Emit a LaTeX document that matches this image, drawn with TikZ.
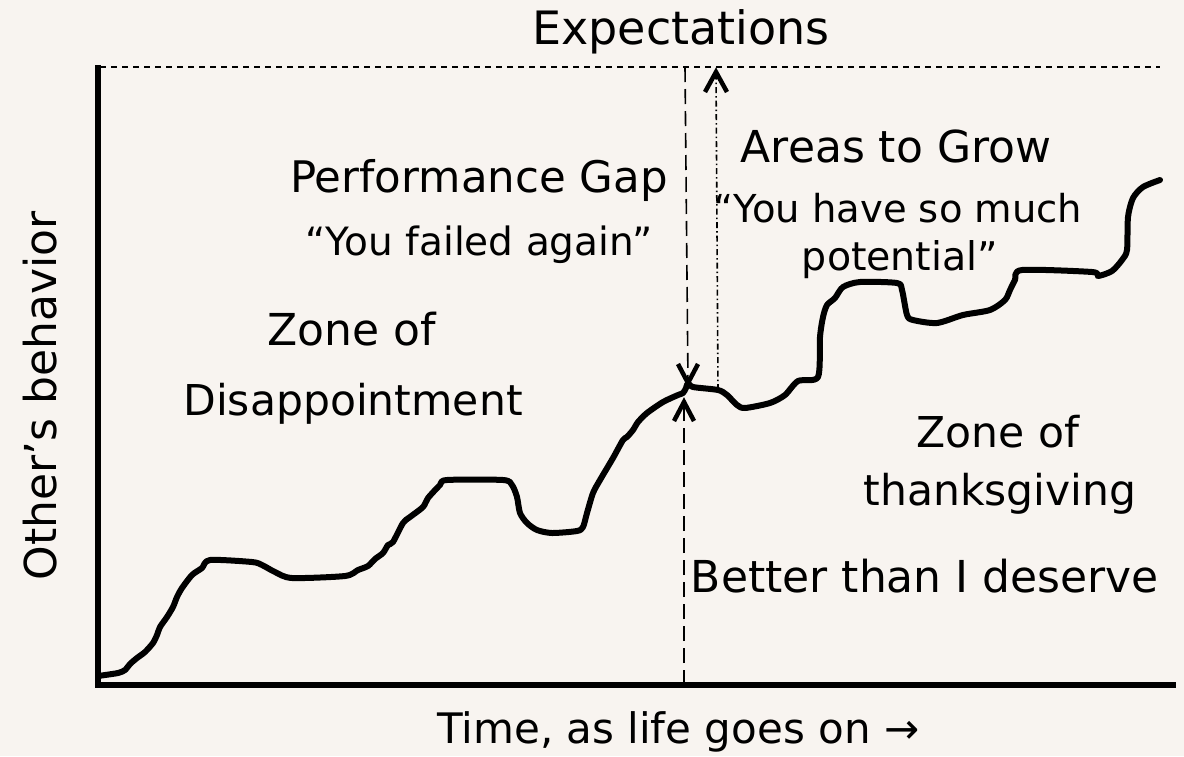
\documentclass[tikz,border=0pt]{standalone}
\usepackage{fontspec}
\setmainfont{DejaVu Sans}
\definecolor{bg}{HTML}{F8F4F0}
\newcommand{\fsz}[1]{\fontsize{#1}{#1}\selectfont}
\begin{document}
\begin{tikzpicture}[x=1pt,y=-1pt,
  lbl/.style={inner sep=0pt, anchor=base},
  axis/.style={line width=6pt, line join=miter},
  curve/.style={line width=6pt, line cap=round, line join=round},
  chev/.style={line width=4.5pt, line join=miter, line cap=butt, solid},
  gapline/.style={line width=1.6pt, dash pattern=on 15pt off 7pt},
  growline/.style={line width=1.6pt, dash pattern=on 6pt off 3pt on 1.5pt off 3pt},
  expline/.style={line width=1.5pt, dash pattern=on 6pt off 5pt}]
\fill[bg] (0,0) rectangle (1184,756);
\useasboundingbox (0,0) rectangle (1184,756);

% coordinates
\coordinate (ytop) at (98,65);
\coordinate (origin) at (98,685);
\coordinate (xend) at (1176,685);
\coordinate (expL) at (100,67);
\coordinate (expR) at (1160,67);
\coordinate (gaptop) at (685,67);
\coordinate (gap) at (688,383);
\coordinate (gapbot) at (684,685);
\coordinate (gapup) at (684,402);
\coordinate (grow) at (718,390);
\coordinate (growtop) at (716,72);

% axes
\draw[axis] (ytop) -- (origin) -- (xend);

% expectations line
\draw[expline] (expL) -- (expR);

% behaviour curve
\draw[curve] plot[smooth, tension=0.45] coordinates {
(98,676) (118,673) (125,670) (130,664) (137,658) (145,652) (153,643) (157,635)
(160,627) (167,617) (173,607) (177,597) (182,588) (192,575) (202,568) (210,560)
(252,562) (262,565) (275,572) (292,578) (345,576) (358,570) (368,566) (375,559)
(383,553) (388,545) (393,542) (403,523) (410,517) (423,507) (428,498) (440,485)
(447,480) (503,480) (512,485) (517,497) (520,513) (527,523) (537,530) (552,533)
(577,531) (583,527) (587,513) (593,493) (600,480) (613,458) (623,440) (627,437)
(633,430) (638,422) (647,413) (663,402) (678,395) (683,393) (686,388) (688,383)
(693,387) (718,390) (727,395) (737,405) (745,408) (770,403) (785,395) (798,381)
(818,377) (820,337) (823,317) (827,305) (835,298) (843,287) (860,282) (897,283)
(902,290) (907,315) (913,320) (937,323) (963,315) (990,310) (1005,300) (1010,290)
(1015,280) (1022,270) (1092,272) (1098,276) (1112,271) (1122,260) (1127,250)
(1128,217) (1133,198) (1143,187) (1160,180)};

% gap and growth connectors
\draw[gapline] (gaptop) -- (gap);
\draw[chev] ([shift={(-10,-19)}]gap) -- (gap) -- ([shift={(10,-19)}]gap);
\draw[gapline] (gapbot) -- (gapup);
\draw[chev] ([shift={(-10,19)}]gapup) -- (gapup) -- ([shift={(10,19)}]gapup);
\draw[growline] (grow) -- (growtop);
\draw[chev] ([shift={(-11,20)}]growtop) -- (growtop) -- ([shift={(11,20)}]growtop);

% labels
\node[lbl, font=\fsz{46}] (expect) at (681,44) {Expectations};
\node[lbl, font=\fsz{43.5}] (perf) at (479,192) {Performance Gap};
\node[lbl, font=\fsz{39}] (failed) at (479,255) {“You failed again”};
\node[lbl, font=\fsz{44}] (zoneA) at (352,345) {Zone of};
\node[lbl, font=\fsz{42.5}] (disap) at (353,415) {Disappointment};
\node[lbl, font=\fsz{44}] (areas) at (896,162) {Areas to Grow};
\node[lbl, font=\fsz{38.5}] (potA) at (898,222) {“You have so much};
\node[lbl, font=\fsz{39.5}] (potB) at (900,270) {potential”};
\node[lbl, font=\fsz{42.5}] (zoneB) at (998,447) {Zone of};
\node[lbl, font=\fsz{42.5}] (thanks) at (1000,505) {thanksgiving};
\node[lbl, font=\fsz{44}] (better) at (925,592) {Better than I deserve};
\node[lbl, font=\fsz{42}, anchor=base west] (time) at (437,743) {Time, as life goes on →};
\node[lbl, font=\fsz{44}, rotate=90] (behav) at (56,396) {Other's behavior};
\end{tikzpicture}
\end{document}
